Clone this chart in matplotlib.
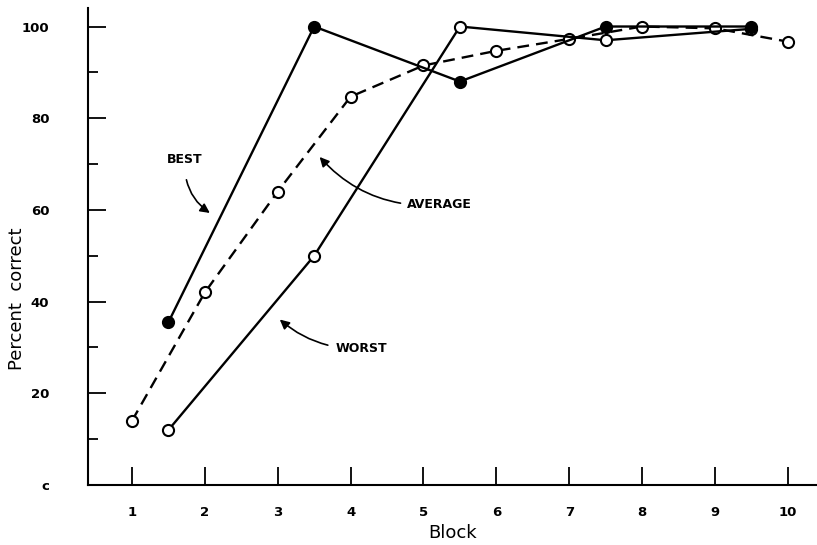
import matplotlib
matplotlib.use("Agg")
import matplotlib.pyplot as plt

# block positions and percent correct values
best_x = [1.5, 3.5, 5.5, 7.5, 9.5]
best_y = [35.5, 100, 88, 100, 100]

worst_x = [1.5, 3.5, 5.5, 7.5, 9.5]
worst_y = [12, 50, 100, 97, 99.5]

avg_x = [1, 2, 3, 4, 5, 6, 7, 8, 9, 10]
avg_y = [14, 42, 64, 84.7, 91.5, 94.7, 97.3, 100, 99.6, 96.7]

x_ticks = [1, 2, 3, 4, 5, 6, 7, 8, 9, 10]
y_ticks = [0, 20, 40, 60, 80, 100]
y_ticklabels = ["c", "20", "40", "60", "80", "100"]


def main():
    fig = plt.figure(figsize=(8.17, 5.45), dpi=100)
    ax = fig.add_axes([0.108, 0.11, 0.892, 0.875])

    ax.plot(avg_x, avg_y, color="black", lw=1.7, ls=(0, (5, 3)),
            marker="o", ms=8, mfc="white", mec="black", mew=1.5, zorder=3)
    ax.plot(worst_x, worst_y, color="black", lw=1.7,
            marker="o", ms=8, mfc="white", mec="black", mew=1.5, zorder=4)
    ax.plot(best_x, best_y, color="black", lw=1.7,
            marker="o", ms=8, mfc="black", mec="black", mew=1.5, zorder=5)

    ax.set_xlim(0.4, 10.4)
    ax.set_ylim(0, 104)
    ax.spines["top"].set_visible(False)
    ax.spines["right"].set_visible(False)
    ax.spines["left"].set_linewidth(1.5)
    ax.spines["bottom"].set_linewidth(1.5)

    ax.set_xticks(x_ticks)
    ax.set_xticklabels([str(v) for v in x_ticks], fontsize=9.5, fontweight="bold")
    ax.set_yticks(y_ticks)
    ax.set_yticklabels(y_ticklabels, fontsize=9.5, fontweight="bold")
    ax.set_yticks([10, 30, 50, 70, 90], minor=True)
    ax.tick_params(axis="both", which="major", direction="in", length=13, width=1.3)
    ax.tick_params(axis="x", pad=15)
    ax.tick_params(axis="y", pad=28)
    ax.tick_params(axis="y", which="minor", direction="in", length=7, width=1.3)

    ax.set_xlabel("Block", fontsize=13, labelpad=4)
    ax.set_ylabel("Percent  correct", fontsize=13)
    ax.yaxis.set_label_coords(-0.086, 0.39)

    arrow = dict(arrowstyle="-|>", color="black", lw=1.2, mutation_scale=14)
    ax.annotate("BEST", xy=(2.1, 59), xytext=(1.73, 71), fontsize=9,
                fontweight="bold", ha="center", va="center",
                arrowprops=dict(arrow, connectionstyle="arc3,rad=0.3",
                                shrinkA=8))
    ax.annotate("AVERAGE", xy=(3.55, 72), xytext=(4.78, 61.1), fontsize=9,
                fontweight="bold", ha="left", va="center",
                arrowprops=dict(arrow, connectionstyle="arc3,rad=-0.25",
                                shrinkA=3))
    ax.annotate("WORST", xy=(3.0, 36.5), xytext=(3.8, 29.7), fontsize=9,
                fontweight="bold", ha="left", va="center",
                arrowprops=dict(arrow, connectionstyle="arc3,rad=-0.2",
                                shrinkA=4))

    fig.savefig("out.png", dpi=100)


if __name__ == "__main__":
    main()
